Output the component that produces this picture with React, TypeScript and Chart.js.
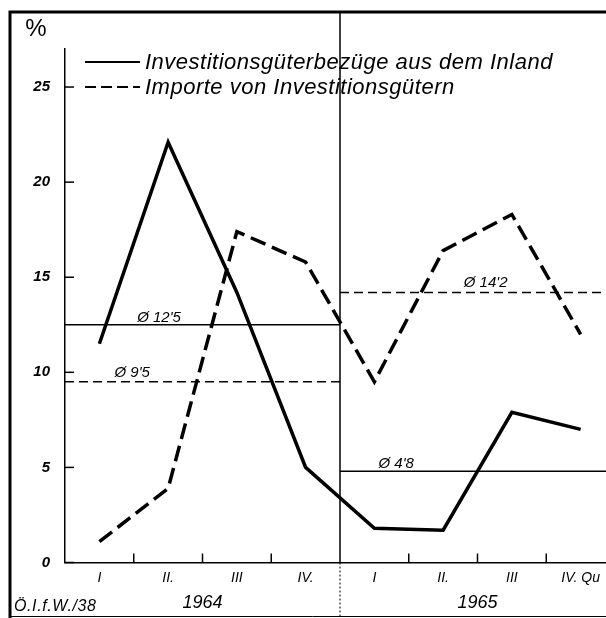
import React, { useEffect, useRef } from "react";
import { Chart, registerables } from "chart.js";

Chart.register(...registerables);

const quarters = ["I", "II.", "III", "IV.", "I", "II.", "III", "IV. Qu"];
const years = ["1964", "1965"];
const yTickValues = [0, 5, 10, 15, 20, 25];
const inlandValues = [11.5, 22.1, 14.2, 5.0, 1.8, 1.7, 7.9, 7.0];
const importValues = [1.1, 3.9, 17.4, 15.8, 9.5, 16.4, 18.3, 12.0];
const inlandAverages = [12.5, 4.8];
const importAverages = [9.5, 14.2];
const inlandAverageLabels = ["Ø 12'5", "Ø 4'8"];
const importAverageLabels = ["Ø 9'5", "Ø 14'2"];
const seriesLabels = [
  "Investitionsgüterbezüge aus dem Inland",
  "Importe von Investitionsgütern",
];
const unitLabel = "%";
const sourceLabel = "Ö.I.f.W./38";

const FAMILY = "'Liberation Sans', Arial, sans-serif";
const QPY = 4;

const yearSegment = (k: number, v: number) => [
  { x: k * QPY - 0.5, y: v },
  { x: k * QPY + QPY - 0.5, y: v },
];

// label anchor positions (x in quarter units) for the average annotations
const inlandAvgLabelX = [0.55, 4.06];
const importAvgLabelX = [0.22, 5.3];

const decor = {
  id: "decor",
  afterDraw(chart: any) {
    const { ctx, chartArea: ca } = chart;
    const x = chart.scales.x;
    const y = chart.scales.y;
    const line = (x1: number, y1: number, x2: number, y2: number) => {
      ctx.beginPath();
      ctx.moveTo(x1, y1);
      ctx.lineTo(x2, y2);
      ctx.stroke();
    };
    ctx.save();
    ctx.strokeStyle = "#000";
    ctx.fillStyle = "#000";
    ctx.setLineDash([]);

    // outer frame
    ctx.lineWidth = 3;
    ctx.beginPath();
    ctx.moveTo(10, 618);
    ctx.lineTo(10, 12);
    ctx.lineTo(chart.width, 12);
    ctx.stroke();
    ctx.lineWidth = 1;
    line(10, 616.5, chart.width, 616.5);

    // year divider
    const xd = x.getPixelForValue(QPY - 0.5);
    ctx.lineWidth = 1.5;
    line(xd, 12, xd, ca.bottom);
    ctx.lineWidth = 1;
    ctx.setLineDash([2, 2]);
    line(xd, ca.bottom, xd, 617);
    ctx.setLineDash([]);

    // inward tick marks
    ctx.lineWidth = 1.5;
    yTickValues.forEach((v) => {
      const py = y.getPixelForValue(v);
      line(ca.left, py, ca.left + 9, py);
    });
    for (let i = 0; i < quarters.length - 1; i++) {
      if (i === QPY - 1) continue;
      const px = x.getPixelForValue(i + 0.5);
      line(px, ca.bottom, px, ca.bottom - 9);
    }

    // unit
    ctx.font = `24px ${FAMILY}`;
    ctx.textAlign = "center";
    ctx.textBaseline = "middle";
    ctx.fillText(unitLabel, 36, 29);

    // years
    ctx.font = `italic 18px ${FAMILY}`;
    years.forEach((t, k) => {
      const cx =
        (x.getPixelForValue(k * QPY) + x.getPixelForValue(k * QPY + QPY - 1)) / 2;
      ctx.fillText(t, cx, 603);
    });

    // source
    ctx.textAlign = "left";
    ctx.font = `italic 16px ${FAMILY}`;
    try {
      ctx.letterSpacing = "0.6px";
    } catch (e) {}
    ctx.fillText(sourceLabel, 14, 607);
    try {
      ctx.letterSpacing = "0px";
    } catch (e) {}

    // average labels
    ctx.font = `italic 15px ${FAMILY}`;
    ctx.textBaseline = "alphabetic";
    inlandAverages.forEach((v, k) => {
      ctx.fillText(inlandAverageLabels[k], x.getPixelForValue(inlandAvgLabelX[k]), y.getPixelForValue(v) - 3);
    });
    importAverages.forEach((v, k) => {
      ctx.fillText(importAverageLabels[k], x.getPixelForValue(importAvgLabelX[k]), y.getPixelForValue(v) - 5);
    });

    // legend
    const ds = chart.data.datasets;
    const rows = [62, 87];
    ctx.textBaseline = "middle";
    ctx.font = `italic 22px ${FAMILY}`;
    try {
      ctx.letterSpacing = "0.5px";
    } catch (e) {}
    rows.forEach((ry, k) => {
      ctx.lineWidth = 2;
      ctx.setLineDash(k === 0 ? [] : [11, 5]);
      line(85, ry, 140, ry);
      ctx.setLineDash([]);
      ctx.fillText(ds[k].label, 145, ry + 1);
    });
    try {
      ctx.letterSpacing = "0px";
    } catch (e) {}
    ctx.restore();
  },
};

export default function App() {
  const ref = useRef<HTMLCanvasElement | null>(null);

  useEffect(() => {
    if (!ref.current) return;
    const thinSolid = { borderColor: "#000", borderWidth: 1.5, pointRadius: 0, borderDash: [] as number[] };
    const thinDashed = { borderColor: "#000", borderWidth: 1.5, pointRadius: 0, borderDash: [9, 5] };
    const chart = new Chart(ref.current, {
      type: "line",
      data: {
        datasets: [
          {
            label: seriesLabels[0],
            data: inlandValues.map((v, i) => ({ x: i, y: v })),
            borderColor: "#000",
            borderWidth: 3.5,
            pointRadius: 0,
            tension: 0,
          },
          {
            label: seriesLabels[1],
            data: importValues.map((v, i) => ({ x: i, y: v })),
            borderColor: "#000",
            borderWidth: 3.5,
            borderDash: [16, 7],
            pointRadius: 0,
            tension: 0,
          },
          ...inlandAverages.map((v, k) => ({
            label: "avg-inland-" + years[k],
            data: yearSegment(k, v),
            ...thinSolid,
          })),
          ...importAverages.map((v, k) => ({
            label: "avg-import-" + years[k],
            data: yearSegment(k, v),
            ...thinDashed,
          })),
        ] as any,
      },
      options: {
        animation: false,
        responsive: false,
        devicePixelRatio: 1,
        layout: { padding: { top: 49, left: 0, right: 0, bottom: 0 } },
        plugins: {
          legend: { display: false },
          tooltip: { enabled: false },
          title: { display: false },
        },
        scales: {
          x: {
            type: "linear",
            min: -0.5,
            max: quarters.length - 0.5,
            afterBuildTicks: (s: any) => {
              s.ticks = quarters.map((_, i) => ({ value: i }));
            },
            afterFit: (s: any) => {
              s.height = 55.5;
            },
            ticks: {
              callback: (_v: any, i: number) => quarters[i],
              autoSkip: false,
              maxRotation: 0,
              padding: 7,
              color: "#000",
              font: { family: FAMILY, size: 14, style: "italic" },
            },
            grid: { display: false, drawTicks: false },
            border: { display: true, color: "#000", width: 1.5 },
          },
          y: {
            type: "linear",
            min: 0,
            max: 27,
            afterBuildTicks: (s: any) => {
              s.ticks = yTickValues.map((v) => ({ value: v }));
            },
            afterFit: (s: any) => {
              s.width = 65;
            },
            ticks: {
              padding: 15,
              color: "#000",
              font: { family: FAMILY, size: 15, style: "italic", weight: "bold" },
            },
            grid: { display: false, drawTicks: false },
            border: { display: true, color: "#000", width: 1.5 },
          },
        },
      },
      plugins: [decor],
    });
    return () => chart.destroy();
  }, []);

  return (
    <div
      style={{
        position: "fixed",
        left: 0,
        top: 0,
        width: 606,
        height: 618,
        overflow: "hidden",
        background: "#fff",
      }}
    >
      <canvas ref={ref} width={615} height={618} style={{ display: "block" }} />
    </div>
  );
}
